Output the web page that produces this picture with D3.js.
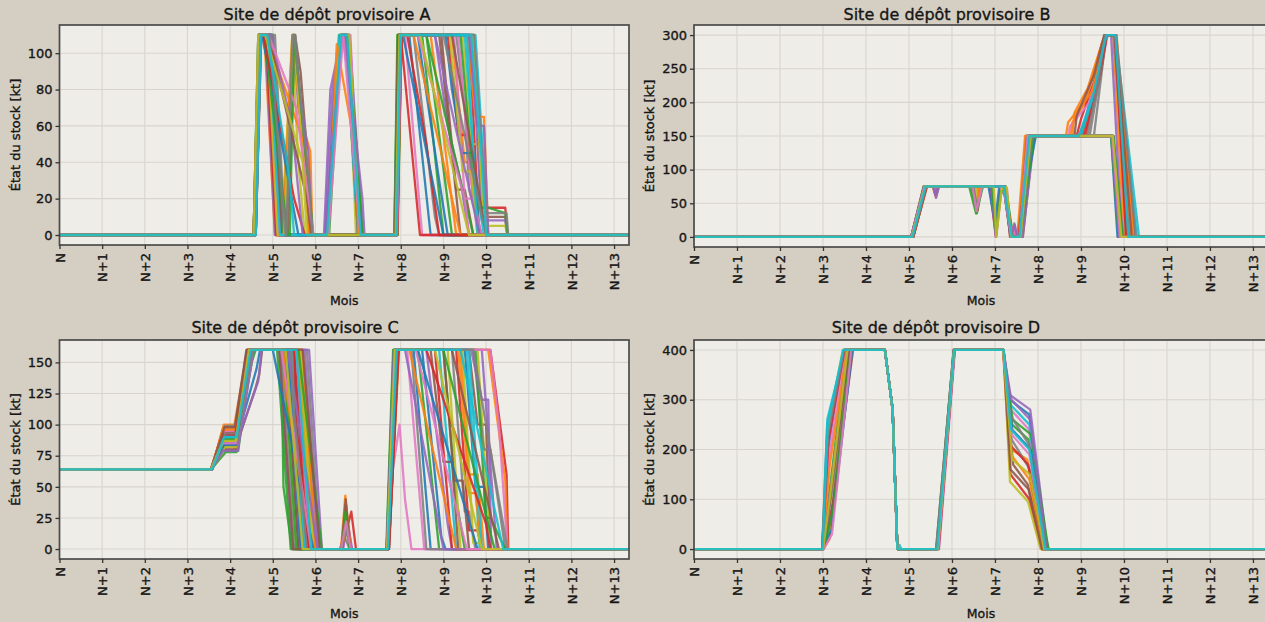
<!DOCTYPE html>
<html>
<head>
<meta charset="utf-8">
<script src="https://cdn.jsdelivr.net/npm/d3@7"></script>
<style>
  html, body { margin: 0; padding: 0; background: #d5cfc3; }
  svg { display: block; }
  text { font-family: "DejaVu Sans", sans-serif; fill: #161616; stroke: #161616; stroke-width: 0.35px; }
</style>
</head>
<body>
<svg id="chart" width="1265" height="622"></svg>
<script>
// ---------------- DATA ----------------
const monthLabels = ["N","N+1","N+2","N+3","N+4","N+5","N+6","N+7","N+8","N+9","N+10","N+11","N+12","N+13"];
const titles = ["Site de dépôt provisoire A","Site de dépôt provisoire B","Site de dépôt provisoire C","Site de dépôt provisoire D"];
const yLabel = "État du stock [kt]";
const xLabel = "Mois";
const yTicksA = [0,20,40,60,80,100];
const yTicksB = [0,50,100,150,200,250,300];
const yTicksC = [0,25,50,75,100,125,150];
const yTicksD = [0,100,200,300,400];

// each series: flat list month, stock, month, stock, ...
const siteA = [
 [0,0,4.55,0,4.66,110,4.9,110,5.15,0,6.25,0,6.45,80,6.6,110,6.8,110,7.05,0,7.88,0,7.95,110,8.2,110,8.7,0,13.35,0],
 [0,0,4.58,0,4.7,110,4.8,110,5.05,0,5.2,0,5.47,110,5.7,60,5.88,46,5.93,0,7.9,0,8.0,110,9.2,110,9.5,40,9.7,40,9.85,0,13.35,0],
 [0,0,4.6,0,4.72,110,5.0,110,5.25,0,6.3,0,6.55,110,6.75,110,6.95,45,7.0,0,7.85,0,7.92,110,8.5,110,9.0,0,13.35,0],
 [0,0,4.55,0,4.68,110,4.88,110,5.12,0,5.3,0,5.5,105,5.9,0,7.92,0,8.02,110,9.6,110,9.8,20,10.05,15,10.45,15,10.5,0,13.35,0],
 [0,0,4.57,0,4.69,110,4.92,110,5.22,0,6.2,0,6.35,80,6.62,110,6.85,80,7.1,0,7.87,0,7.97,110,8.8,110,9.1,60,9.4,30,9.6,0,13.35,0],
 [0,0,4.6,0,4.73,110,4.86,110,5.3,0,5.35,0,5.52,110,5.65,90,5.8,46,5.85,0,7.9,0,7.98,110,9.7,110,9.9,10,10.1,10,10.45,10,10.5,0,13.35,0],
 [0,0,4.56,0,4.66,110,4.95,110,5.1,60,5.2,0,6.3,0,6.5,100,6.65,110,6.75,110,7.08,0,7.85,0,7.94,110,8.1,110,8.5,0,13.35,0],
 [0,0,4.59,0,4.7,110,5.05,110,5.28,0,7.88,0,8.0,110,9.3,110,9.5,70,9.6,25,9.9,0,13.35,0],
 [0,0,4.55,0,4.67,110,4.83,110,5.08,0,5.22,0,5.45,108,5.6,40,5.75,0,6.25,0,6.58,110,6.72,110,6.9,30,6.95,0,7.92,0,8.01,110,9.45,110,9.65,50,9.8,50,10.0,0,13.35,0],
 [0,0,4.6,0,4.71,110,4.9,110,5.18,0,7.86,0,7.96,110,9.75,110,10.05,0,13.35,0],
 [0,0,4.57,0,4.68,110,4.97,110,5.15,20,5.25,0,6.28,0,6.45,82,6.6,110,6.7,110,7.0,0,7.9,0,7.99,110,8.4,110,8.9,30,9.1,0,13.35,0],
 [0,0,4.58,0,4.7,110,4.85,110,5.12,0,5.27,0,5.5,110,5.75,30,5.85,0,7.87,0,7.95,110,9.55,110,9.75,65,9.95,65,10.05,0,13.35,0],
 [0,0,4.56,0,4.67,110,4.9,110,5.2,0,6.32,0,6.6,110,6.78,110,7.1,0,7.85,0,7.93,110,8.6,110,9.2,0,13.35,0],
 [0,0,4.6,0,4.72,110,4.95,110,5.25,0,7.91,0,8.02,110,9.1,110,9.35,55,9.55,55,9.7,20,9.85,0,13.35,0],
 [0,0,4.55,0,4.68,110,4.82,110,5.05,0,5.25,0,5.48,110,5.6,70,5.82,46,5.9,0,6.22,0,6.4,80,6.63,110,6.8,110,6.98,45,7.05,0,7.9,0,7.97,110,9.65,110,9.9,8,10.1,8,10.45,8,10.5,0,13.35,0],
 [0,0,4.57,0,4.69,110,4.93,110,5.17,0,7.86,0,7.96,110,8.95,110,9.3,25,9.5,25,9.7,0,13.35,0],
 [0,0,4.59,0,4.71,110,4.87,110,5.1,0,6.26,0,6.5,90,6.62,110,6.82,110,7.02,0,7.88,0,7.98,110,9.35,110,9.6,40,9.8,0,13.35,0],
 [0,0,4.56,0,4.67,110,5.0,110,5.22,0,5.3,0,5.53,110,5.9,0,7.89,0,7.99,110,8.3,110,8.8,10,8.9,0,13.35,0],
 [0,0,4.58,0,4.7,110,4.9,110,5.13,0,7.92,0,8.0,110,9.7,110,9.95,5,10.45,5,10.5,0,13.35,0],
 [0,0,4.55,0,4.66,110,4.88,110,5.2,0,6.3,0,6.56,110,6.7,110,7.0,0,7.85,0,7.95,110,9.5,110,9.75,30,9.95,0,13.35,0],
 [0,0,4.6,0,4.72,110,4.92,110,5.16,0,7.9,0,8.0,110,9.05,110,9.2,80,9.45,45,9.7,45,9.85,0,13.35,0],
 [0,0,4.57,0,4.69,110,4.86,110,5.12,0,5.24,0,5.46,110,5.68,55,5.87,0,7.87,0,7.95,110,8.7,110,9.3,0,13.35,0],
 [0,0,4.55,0,4.67,110,4.96,110,5.24,0,6.27,0,6.47,78,6.64,110,6.76,110,7.12,0,7.93,0,8.01,110,9.4,110,9.75,15,10.05,15,10.45,12,10.5,0,13.35,0],
 [0,0,4.59,0,4.7,110,4.84,110,5.08,0,7.86,0,7.94,110,8.15,110,8.6,50,8.9,0,13.35,0],
 [0,0,4.56,0,4.68,110,4.91,110,5.19,0,5.28,0,5.5,110,5.62,80,5.83,46,5.92,0,7.88,0,7.97,110,9.6,110,9.8,60,9.95,60,10.05,0,13.35,0],
 [0,0,4.58,0,4.71,110,4.94,110,5.2,0,6.24,0,6.6,110,6.73,110,6.93,45,7.0,0,7.9,0,7.99,110,8.9,110,9.4,0,13.35,0],
 [0,0,4.57,0,4.69,110,4.89,110,5.14,0,7.91,0,8.01,110,9.25,110,9.5,20,9.7,20,9.9,0,13.35,0],
 [0,0,4.6,0,4.73,110,4.98,110,5.27,0,7.87,0,7.96,110,9.72,110,10.0,12,10.1,12,10.48,12,10.52,0,13.35,0],
 [0,0,4.55,0,4.66,110,4.87,110,5.11,0,5.26,0,5.49,110,5.78,25,5.88,0,6.29,0,6.52,95,6.61,110,6.79,110,7.04,0,7.89,0,7.98,110,9.15,110,9.45,35,9.65,35,9.8,0,13.35,0],
 [0,0,4.58,0,4.7,110,4.9,110,5.17,0,7.88,0,7.97,110,9.55,110,9.8,0,13.35,0],
 [0,0,4.56,0,4.68,110,4.75,110,5.6,0,7.9,0,8.0,110,8.05,110,9.0,0,13.35,0],
 [0,0,4.58,0,4.69,110,4.85,110,5.8,46,5.85,0,6.3,0,6.5,105,6.95,45,7.0,0,7.88,0,7.97,110,8.3,110,9.4,0,13.35,0],
 [0,0,4.57,0,4.7,110,4.8,110,5.35,0,5.4,0,5.5,110,5.95,0,7.86,0,7.95,110,8.6,110,9.7,0,13.35,0],
 [0,0,4.55,0,4.67,110,4.78,110,5.5,20,5.75,0,7.92,0,8.0,110,8.45,0,13.35,0],
 [0,0,4.59,0,4.71,110,4.95,110,5.45,60,5.7,0,6.22,0,6.62,110,6.68,110,7.1,20,7.15,0,7.9,0,7.98,110,8.8,110,9.85,0,13.35,0],
 [0,0,4.56,0,4.68,110,4.8,110,5.0,100,5.8,20,5.9,0,7.87,0,7.96,110,9.2,110,10.0,0,13.35,0],
 [0,0,4.58,0,4.7,110,4.9,110,5.55,70,5.95,0,6.3,0,6.65,110,7.05,0,7.91,0,8.0,110,8.4,110,9.5,20,9.6,0,13.35,0],
 [0,0,4.57,0,4.69,110,4.92,110,5.3,0,5.32,0,5.46,110,5.5,110,5.88,20,5.93,0,7.89,0,7.98,110,9.0,110,9.9,10,10.05,0,13.35,0],
 [0,0,4.55,0,4.66,110,4.82,110,5.7,40,5.8,0,7.88,0,7.97,110,8.45,110,9.6,0,13.35,0],
 [0,0,4.6,0,4.72,110,4.87,110,5.4,30,5.5,0,6.27,0,6.6,110,6.74,110,7.06,0,7.9,0,7.99,110,9.65,110,9.9,40,10.0,0,13.35,0]
];

const siteB = [
 [0,0,5.05,0,5.35,75,7.2,75,7.38,0,7.55,0,7.75,150,9.7,150,9.85,0,13.35,0],
 [0,0,5.08,0,5.38,75,5.55,75,5.62,60,5.7,75,7.22,75,7.4,0,7.6,0,7.82,150,8.75,150,8.8,170,9.1,200,9.45,280,9.55,300,9.75,300,10.0,0,13.35,0],
 [0,0,5.1,0,5.4,75,6.45,75,6.58,35,6.7,75,7.25,75,7.42,0,7.58,0,7.8,150,9.72,150,9.9,0,13.35,0],
 [0,0,5.05,0,5.36,75,6.88,75,7.02,0,7.12,70,7.25,70,7.35,0,7.42,15,7.5,0,7.62,0,7.88,150,8.9,150,9.0,175,9.3,230,9.6,300,9.8,300,10.1,0,13.35,0],
 [0,0,5.07,0,5.37,75,7.2,75,7.36,0,7.55,0,7.72,150,9.0,150,9.4,250,9.55,300,9.7,300,9.95,0,13.35,0],
 [0,0,5.1,0,5.42,75,5.58,75,5.62,62,5.68,75,6.5,75,6.6,40,6.65,75,7.23,75,7.4,0,7.65,0,7.9,150,9.75,150,9.95,0,13.35,0],
 [0,0,5.06,0,5.35,75,6.95,75,7.03,0,7.15,72,7.28,72,7.37,0,7.6,0,7.85,150,8.7,150,8.75,165,9.2,200,9.5,260,9.62,300,9.8,300,10.2,0,13.35,0],
 [0,0,5.09,0,5.39,75,7.21,75,7.39,0,7.45,20,7.5,0,7.58,0,7.8,150,9.3,150,9.55,280,9.6,300,9.82,300,10.05,0,13.35,0],
 [0,0,5.05,0,5.34,75,6.55,75,6.6,50,6.68,75,7.2,75,7.38,0,7.55,0,7.76,150,9.73,150,9.92,0,13.35,0],
 [0,0,5.08,0,5.37,75,7.22,75,7.4,0,7.57,0,7.79,150,9.0,150,9.3,210,9.5,270,9.58,300,9.78,300,10.3,0,13.35,0],
 [0,0,5.07,0,5.36,75,6.85,75,7.0,20,7.1,75,7.24,75,7.41,0,7.62,0,7.86,150,9.74,150,9.96,0,13.35,0],
 [0,0,5.1,0,5.41,75,7.23,75,7.4,0,7.59,0,7.83,150,8.8,150,8.85,185,9.15,220,9.5,290,9.6,300,9.83,300,10.15,0,13.35,0],
 [0,0,5.06,0,5.35,75,6.4,75,6.56,35,6.72,75,7.2,75,7.37,0,7.56,0,7.74,150,9.7,150,9.88,0,13.35,0],
 [0,0,5.08,0,5.38,75,7.21,75,7.38,0,7.6,0,7.84,150,9.1,150,9.45,240,9.6,300,9.8,300,10.08,0,13.35,0],
 [0,0,5.09,0,5.4,75,5.57,75,5.63,58,5.7,75,6.9,75,7.02,0,7.14,65,7.26,65,7.38,0,7.64,0,7.92,150,9.76,150,9.98,0,13.35,0],
 [0,0,5.05,0,5.34,75,7.2,75,7.36,0,7.54,0,7.73,150,8.95,150,9.2,190,9.48,255,9.58,300,9.8,300,10.25,0,13.35,0],
 [0,0,5.07,0,5.37,75,7.22,75,7.39,0,7.43,15,7.48,0,7.61,0,7.87,150,9.72,150,9.93,0,13.35,0],
 [0,0,5.1,0,5.4,75,6.5,75,6.58,45,6.68,75,7.23,75,7.4,0,7.57,0,7.78,150,9.2,150,9.5,260,9.56,300,9.76,300,10.12,0,13.35,0],
 [0,0,5.06,0,5.36,75,7.2,75,7.38,0,7.58,0,7.81,150,9.74,150,9.9,0,13.35,0],
 [0,0,5.08,0,5.38,75,7.21,75,7.39,0,7.56,0,7.77,150,9.0,150,9.35,220,9.52,285,9.6,300,9.8,300,10.35,0,13.35,0],
 [0,0,5.06,0,5.36,75,7.21,75,7.38,0,7.5,0,7.95,150,9.72,150,9.9,0,13.35,0],
 [0,0,5.09,0,5.39,75,6.6,75,6.62,55,6.66,75,7.22,75,7.4,0,7.52,0,7.7,150,8.65,150,8.7,170,9.25,215,9.5,275,9.58,300,9.8,300,10.22,0,13.35,0],
 [0,0,5.07,0,5.37,75,6.92,75,7.03,5,7.13,68,7.27,68,7.38,0,7.6,0,7.9,150,9.75,150,9.97,0,13.35,0],
 [0,0,5.1,0,5.41,75,7.23,75,7.4,0,7.55,0,7.8,150,9.05,150,9.3,200,9.5,265,9.57,300,9.79,300,10.05,0,13.35,0],
 [0,0,5.05,0,5.35,75,5.56,75,5.6,65,5.66,75,7.2,75,7.37,0,7.46,18,7.52,0,7.6,0,7.84,150,9.71,150,9.89,0,13.35,0],
 [0,0,5.08,0,5.38,75,7.21,75,7.39,0,7.58,0,7.82,150,8.85,150,8.9,180,9.3,240,9.54,300,9.8,300,10.18,0,13.35,0],
 [0,0,5.06,0,5.36,75,6.48,75,6.57,38,6.7,75,7.2,75,7.38,0,7.57,0,7.76,150,9.73,150,9.91,0,13.35,0],
 [0,0,5.09,0,5.4,75,7.22,75,7.4,0,7.6,0,7.86,150,9.15,150,9.4,230,9.56,300,9.82,300,10.28,0,13.35,0],
 [0,0,5.07,0,5.37,75,6.97,75,7.03,0,7.16,74,7.27,74,7.38,0,7.59,0,7.83,150,9.74,150,9.94,0,13.35,0],
 [0,0,5.08,0,5.38,75,7.21,75,7.39,0,7.57,0,7.8,150,8.95,150,9.3,215,9.55,290,9.6,300,9.8,300,10.1,0,13.35,0]
];

const siteC = [
 [0,64,3.55,64,3.8,85,4.15,85,4.45,160,5.3,160,5.6,0,7.68,0,7.85,160,8.3,160,8.7,0,13.35,0],
 [0,64,3.57,64,3.85,100,4.1,100,4.4,160,5.45,160,5.75,0,6.6,0,6.7,43,6.8,0,7.7,0,7.9,160,9.4,160,9.6,60,9.8,60,9.95,0,13.35,0],
 [0,64,3.55,64,3.9,78,4.15,78,4.5,150,4.6,160,5.2,160,5.25,50,5.45,0,7.66,0,7.82,160,9.0,160,9.3,40,9.5,0,13.35,0],
 [0,64,3.58,64,3.82,90,4.12,90,4.55,160,5.6,160,5.9,0,6.62,0,6.84,30,6.95,0,7.72,0,7.95,160,10.1,160,10.48,60,10.52,0,13.35,0],
 [0,64,3.56,64,3.88,95,4.18,95,4.42,160,5.15,160,5.45,0,7.68,0,7.88,160,8.6,160,9.1,20,9.2,0,13.35,0],
 [0,64,3.55,64,3.83,82,4.14,82,4.6,130,4.68,140,4.75,160,5.7,160,6.0,0,7.7,0,7.92,160,9.6,160,9.8,100,10.0,100,10.1,0,13.35,0],
 [0,64,3.57,64,3.86,88,4.16,88,4.48,160,5.35,160,5.65,0,6.65,0,6.74,25,6.82,0,7.67,0,7.84,160,8.15,160,8.55,0,13.35,0],
 [0,64,3.56,64,3.84,97,4.11,97,4.38,160,5.8,160,6.1,0,7.71,0,7.93,160,9.2,160,9.5,30,9.6,30,9.75,0,13.35,0],
 [0,64,3.55,64,3.87,80,4.17,80,4.52,160,5.25,160,5.55,0,6.58,0,6.7,15,6.85,0,7.69,0,7.86,160,9.8,160,10.1,0,13.35,0],
 [0,64,3.58,64,3.81,92,4.13,92,4.46,160,5.5,160,5.8,0,7.7,0,7.9,160,8.9,160,9.3,0,13.35,0],
 [0,64,3.56,64,3.89,84,4.12,84,4.62,145,4.7,160,5.4,160,5.7,0,7.68,0,7.87,160,9.5,160,9.75,50,9.95,50,10.05,0,13.35,0],
 [0,64,3.55,64,3.85,98,4.15,98,4.44,160,5.65,160,5.95,0,6.6,0,6.72,35,6.84,0,7.72,0,7.96,160,10.05,160,10.45,55,10.5,0,13.35,0],
 [0,64,3.57,64,3.83,79,4.19,79,4.5,160,5.1,160,5.42,0,7.67,0,7.83,160,8.4,160,8.9,0,13.35,0],
 [0,64,3.56,64,3.9,90,4.14,90,4.41,160,5.55,160,5.85,0,7.69,0,7.89,160,9.3,160,9.6,15,9.8,15,9.9,0,13.35,0],
 [0,64,3.55,64,3.84,86,4.16,86,4.58,127,4.66,135,4.74,160,5.75,160,6.05,0,6.64,0,6.76,20,6.86,0,7.71,0,7.91,160,9.9,160,10.25,0,13.35,0],
 [0,64,3.58,64,3.86,94,4.11,94,4.39,160,5.3,160,5.6,0,7.68,0,7.85,160,8.7,160,9.0,70,9.2,70,9.35,0,13.35,0],
 [0,64,3.56,64,3.82,81,4.13,81,4.47,160,5.45,160,5.75,0,7.7,0,7.8,60,7.97,100,8.1,40,8.25,0,13.35,0],
 [0,64,3.55,64,3.88,99,4.17,99,4.43,160,5.2,160,5.5,0,6.57,0,6.68,10,6.8,0,7.73,0,7.94,160,9.7,160,9.95,80,10.1,80,10.45,0,13.35,0],
 [0,64,3.57,64,3.85,87,4.12,87,4.53,160,5.6,160,5.9,0,7.69,0,7.88,160,9.1,160,9.4,0,13.35,0],
 [0,64,3.56,64,3.83,91,4.15,91,4.45,160,5.4,160,5.7,0,7.7,0,7.9,160,9.55,160,9.85,0,13.35,0],
 [0,64,3.55,64,3.87,83,4.14,83,4.49,160,5.35,160,5.65,0,7.68,0,7.86,160,8.5,160,8.95,10,9.05,0,13.35,0],
 [0,64,3.58,64,3.84,96,4.12,96,4.42,160,5.7,160,6.0,0,6.63,0,6.73,28,6.83,0,7.71,0,7.92,160,9.35,160,9.6,45,9.75,45,9.9,0,13.35,0],
 [0,64,3.56,64,3.86,89,4.18,89,4.56,160,5.25,160,5.55,0,7.67,0,7.84,160,9.75,160,10.0,25,10.1,25,10.45,0,13.35,0],
 [0,64,3.55,64,3.82,93,4.11,93,4.4,160,5.5,160,5.8,0,7.72,0,7.95,160,8.8,160,9.2,0,13.35,0],
 [0,64,3.57,64,3.89,85,4.16,85,4.51,160,5.85,160,6.15,0,7.69,0,7.87,160,9.65,160,9.9,120,10.05,120,10.12,0,13.35,0],
 [0,64,3.56,64,3.84,80,4.13,80,4.46,160,5.15,160,5.48,0,6.61,0,6.71,40,6.81,0,7.7,0,7.89,160,9.0,160,9.25,55,9.45,55,9.6,0,13.35,0],
 [0,64,3.55,64,3.86,95,4.15,95,4.44,160,5.55,160,5.87,0,7.68,0,7.86,160,10.1,160,10.3,100,10.5,0,13.35,0],
 [0,64,3.58,64,3.83,88,4.12,88,4.48,160,5.4,160,5.72,0,7.71,0,7.91,160,8.25,160,8.6,0,13.35,0],
 [0,64,3.56,64,3.88,82,4.17,82,4.54,160,5.65,160,5.95,0,7.69,0,7.88,160,9.45,160,9.7,5,9.85,5,9.95,0,13.35,0],
 [0,64,3.55,64,3.85,90,4.14,90,4.45,160,5.45,160,5.75,0,7.7,0,7.9,160,9.6,160,9.9,0,13.35,0],
 [0,64,3.56,64,3.86,84,4.15,84,4.47,160,5.0,160,5.95,0,7.69,0,7.88,160,8.4,160,9.8,0,13.35,0],
 [0,64,3.57,64,3.83,96,4.13,96,4.43,160,5.25,160,5.3,130,5.9,0,7.7,0,7.9,160,8.2,160,9.3,0,13.35,0],
 [0,64,3.55,64,3.88,88,4.16,88,4.5,160,5.6,160,6.15,0,6.63,0,6.7,30,6.8,0,7.68,0,7.85,160,9.0,160,10.2,0,13.35,0],
 [0,64,3.58,64,3.85,92,4.12,92,4.45,160,5.5,160,5.55,100,5.85,0,7.72,0,7.94,160,8.6,160,10.0,20,10.1,0,13.35,0],
 [0,64,3.56,64,3.84,79,4.18,79,4.55,160,5.35,160,6.05,0,7.67,0,7.84,160,8.1,160,9.0,0,13.35,0],
 [0,64,3.55,64,3.87,98,4.11,98,4.4,160,5.7,160,6.1,0,7.71,0,7.92,160,9.2,160,10.3,0,13.35,0],
 [0,64,3.57,64,3.82,85,4.14,85,4.46,160,5.2,160,5.9,0,6.6,0,6.72,22,6.82,0,7.69,0,7.87,160,8.35,160,9.55,0,13.35,0],
 [0,64,3.56,64,3.89,93,4.17,93,4.52,160,5.45,160,5.5,110,5.8,0,7.7,0,7.91,160,9.7,160,10.5,0,13.35,0],
 [0,64,3.55,64,3.84,87,4.13,87,4.44,160,5.3,160,5.7,0,7.68,0,7.86,160,8.8,160,9.9,0,13.35,0],
 [0,64,3.58,64,3.86,90,4.15,90,4.48,160,5.55,160,5.9,0,7.7,0,7.9,160,9.4,160,10.4,0,13.35,0]
];

const siteD = [
 [0,0,2.98,0,3.1,250,3.5,400,4.44,400,4.62,280,4.73,0,5.65,0,6.05,400,7.19,400,7.35,300,7.8,270,8.1,0,13.35,0],
 [0,0,3.0,0,3.15,20,3.6,400,4.44,400,4.62,280,4.73,0,5.66,0,6.05,400,7.19,400,7.38,200,7.75,180,8.15,0,13.35,0],
 [0,0,2.99,0,3.2,150,3.55,400,4.44,400,4.62,280,4.73,0,5.68,0,6.06,400,7.2,400,7.4,250,7.78,220,8.2,0,13.35,0],
 [0,0,3.0,0,3.25,100,3.65,400,4.44,400,4.62,280,4.73,0,5.64,0,6.04,400,7.19,400,7.36,150,7.8,100,8.08,0,13.35,0],
 [0,0,2.98,0,3.12,200,3.48,400,4.44,400,4.62,280,4.73,0,5.67,0,6.05,400,7.2,400,7.34,310,7.82,280,8.22,0,13.35,0],
 [0,0,3.02,0,3.18,60,3.7,400,4.44,400,4.62,280,4.73,0,5.65,0,6.06,400,7.19,400,7.42,170,7.76,130,8.12,0,13.35,0],
 [0,0,2.99,0,3.14,180,3.52,400,4.44,400,4.62,280,4.73,0,5.7,0,6.07,400,7.2,400,7.37,280,7.79,240,8.18,0,13.35,0],
 [0,0,3.01,0,3.22,120,3.62,400,4.44,400,4.62,280,4.73,0,5.63,0,6.04,400,7.19,400,7.39,220,7.81,160,8.25,0,13.35,0],
 [0,0,2.98,0,3.11,240,3.46,400,4.44,400,4.62,280,4.73,0,5.66,0,6.05,400,7.2,400,7.35,135,7.77,95,8.06,0,13.35,0],
 [0,0,2.99,0,3.1,260,3.5,400,4.44,400,4.62,280,4.73,0,4.78,8,4.82,0,5.68,0,6.06,400,7.19,400,7.36,290,7.8,250,8.15,0,13.35,0],
 [0,0,3.0,0,3.2,40,3.68,400,4.44,400,4.62,280,4.73,0,5.65,0,6.05,400,7.19,400,7.4,240,7.83,200,8.2,0,13.35,0],
 [0,0,2.99,0,3.16,170,3.56,400,4.44,400,4.62,280,4.73,0,5.67,0,6.05,400,7.2,400,7.37,190,7.8,140,8.1,0,13.35,0],
 [0,0,3.01,0,3.24,80,3.64,400,4.44,400,4.62,280,4.73,0,5.64,0,6.04,400,7.19,400,7.41,260,7.84,230,8.24,0,13.35,0],
 [0,0,2.98,0,3.13,220,3.5,400,4.44,400,4.62,280,4.73,0,5.69,0,6.06,400,7.2,400,7.34,210,7.77,170,8.13,0,13.35,0],
 [0,0,3.0,0,3.19,130,3.58,400,4.44,400,4.62,280,4.73,0,5.66,0,6.05,400,7.19,400,7.38,300,7.82,260,8.2,0,13.35,0],
 [0,0,2.99,0,3.15,90,3.6,400,4.44,400,4.62,280,4.73,0,5.65,0,6.05,400,7.2,400,7.36,160,7.78,120,8.09,0,13.35,0],
 [0,0,3.02,0,3.21,30,3.66,400,4.44,400,4.62,280,4.73,0,5.68,0,6.06,400,7.19,400,7.39,230,7.8,190,8.16,0,13.35,0],
 [0,0,2.98,0,3.12,230,3.49,400,4.44,400,4.62,280,4.73,0,5.63,0,6.04,400,7.2,400,7.35,270,7.79,210,8.19,0,13.35,0],
 [0,0,3.0,0,3.17,110,3.57,400,4.44,400,4.62,280,4.73,0,5.67,0,6.05,400,7.19,400,7.4,180,7.81,150,8.14,0,13.35,0],
 [0,0,2.99,0,3.11,250,3.47,400,4.44,400,4.62,280,4.73,0,5.66,0,6.05,400,7.2,400,7.37,240,7.8,200,8.17,0,13.35,0]
];

// ---------------- LAYOUT ----------------
const colors = ["#1f77b4","#ff7f0e","#2ca02c","#d62728","#9467bd","#8c564b","#e377c2","#7f7f7f","#bcbd22","#17becf"];
const panels = [
  {title: titles[0], data: siteA, yTicks: yTicksA, yDom: [-5.5, 115.5], x0: 59.5, x1: 629, y0: 25, y1: 245, tx: 327, ty: 20, ylx: 20, xly: 305},
  {title: titles[1], data: siteB, yTicks: yTicksB, yDom: [-15, 315], x0: 694, x1: 1268, y0: 25, y1: 247, tx: 947, ty: 20, ylx: 654, xly: 305},
  {title: titles[2], data: siteC, yTicks: yTicksC, yDom: [-8, 168], x0: 59.5, x1: 629, y0: 340, y1: 559, tx: 295, ty: 333, ylx: 20, xly: 618},
  {title: titles[3], data: siteD, yTicks: yTicksD, yDom: [-20, 420], x0: 694, x1: 1268, y0: 340, y1: 559, tx: 936, ty: 333, ylx: 654, xly: 618}
];

const svg = d3.select("#chart");
svg.append("rect").attr("width", 1265).attr("height", 622).attr("fill", "#d5cfc3");

const toPairs = s => d3.range(0, s.length, 2).map(i => [s[i], s[i + 1]]);

panels.forEach(p => {
  const x = d3.scaleLinear().domain([0, 13.35]).range([p.x0, p.x1]);
  const y = d3.scaleLinear().domain(p.yDom).range([p.y1, p.y0]);
  const g = svg.append("g");

  g.append("rect").attr("x", p.x0).attr("y", p.y0).attr("width", p.x1 - p.x0).attr("height", p.y1 - p.y0)
    .attr("fill", "#efede8");

  // grid
  g.append("g").selectAll("line").data(d3.range(0, 14)).join("line")
    .attr("x1", d => x(d)).attr("x2", d => x(d)).attr("y1", p.y0).attr("y2", p.y1)
    .attr("stroke", "#d8d5ce").attr("stroke-width", 1.1);
  g.append("g").selectAll("line").data(p.yTicks).join("line")
    .attr("x1", p.x0).attr("x2", p.x1).attr("y1", d => y(d)).attr("y2", d => y(d))
    .attr("stroke", "#d8d5ce").attr("stroke-width", 1.1);

  // series
  const line = d3.line().x(d => x(d[0])).y(d => y(d[1]));
  g.append("g").selectAll("path").data(p.data).join("path")
    .attr("d", d => line(toPairs(d)))
    .attr("fill", "none")
    .attr("stroke", (d, i) => colors[i % 10])
    .attr("stroke-opacity", 0.88)
    .attr("stroke-width", 2.3)
    .attr("stroke-linejoin", "round");

  // frame
  g.append("rect").attr("x", p.x0).attr("y", p.y0).attr("width", p.x1 - p.x0).attr("height", p.y1 - p.y0)
    .attr("fill", "none").attr("stroke", "#4a4a4a").attr("stroke-width", 1.7);

  // x axis
  const xAxis = d3.axisBottom(x).tickValues(d3.range(0, 14)).tickFormat(d => monthLabels[d])
    .tickSize(4).tickPadding(3);
  const xa = g.append("g").attr("transform", `translate(0,${p.y1})`).call(xAxis);
  xa.select(".domain").remove();
  xa.selectAll(".tick line").attr("stroke", "#333").attr("stroke-width", 1.3);
  xa.selectAll(".tick text")
    .attr("font-size", 13).attr("font-family", "DejaVu Sans").attr("fill", "#161616")
    .attr("text-anchor", "end")
    .attr("transform", "rotate(-90)")
    .attr("x", -8).attr("y", 0).attr("dy", "0.36em");

  // y axis
  const yAxis = d3.axisLeft(y).tickValues(p.yTicks).tickSize(4).tickPadding(3);
  const ya = g.append("g").attr("transform", `translate(${p.x0},0)`).call(yAxis);
  ya.select(".domain").remove();
  ya.selectAll(".tick line").attr("stroke", "#333").attr("stroke-width", 1.3);
  ya.selectAll(".tick text").attr("font-size", 13).attr("font-family", "DejaVu Sans").attr("fill", "#161616");

  // titles & labels
  g.append("text").attr("x", p.tx).attr("y", p.ty).attr("text-anchor", "middle")
    .attr("font-size", 16).text(p.title);
  g.append("text").attr("x", (p.x0 + Math.min(p.x1, 1268)) / 2).attr("y", p.xly).attr("text-anchor", "middle")
    .attr("font-size", 12.5).text(xLabel);
  g.append("text")
    .attr("transform", `translate(${p.ylx},${(p.y0 + p.y1) / 2}) rotate(-90)`)
    .attr("text-anchor", "middle").attr("font-size", 13).text(yLabel);
});
</script>
</body>
</html>
